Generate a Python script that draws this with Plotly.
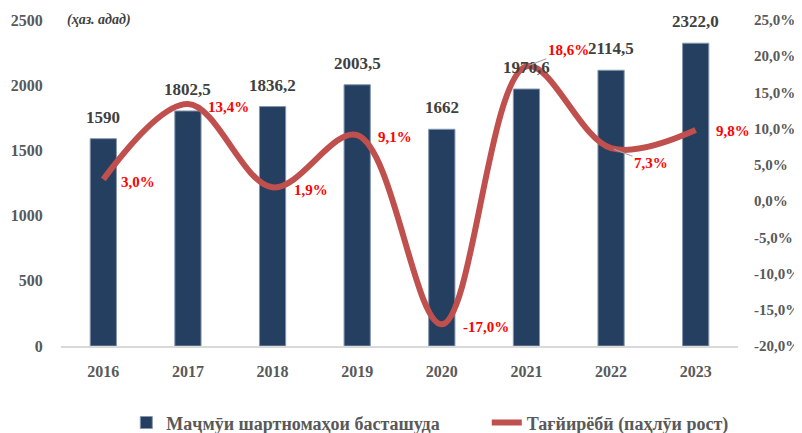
import plotly.graph_objects as go

years = ["2016", "2017", "2018", "2019", "2020", "2021", "2022", "2023"]
contracts = [1590, 1802.5, 1836.2, 2003.5, 1662, 1970.6, 2114.5, 2322.0]
contract_labels = ["1590", "1802,5", "1836,2", "2003,5", "1662", "1970,6", "2114,5", "2322,0"]
growth = [3.0, 13.4, 1.9, 9.1, -17.0, 18.6, 7.3, 9.8]
growth_labels = ["3,0%", "13,4%", "1,9%", "9,1%", "-17,0%", "18,6%", "7,3%", "9,8%"]
left_ticks = [0, 500, 1000, 1500, 2000, 2500]
right_ticks = [-20, -15, -10, -5, 0, 5, 10, 15, 20, 25]
right_tick_labels = ["-20,0%", "-15,0%", "-10,0%", "-5,0%", "0,0%", "5,0%", "10,0%", "15,0%", "20,0%", "25,0%"]
series_names = ["Маҷмӯи шартномаҳои басташуда", "Тағйирёбӣ (паҳлӯи рост)"]
unit_text = "(ҳаз. адад)"

FONT = "Liberation Serif"
BAR_C = "#243F60"
LINE_C = "#C0504D"
TICK_C = "#595959"
LBL_C = "#404040"

fig = go.Figure()
fig.add_trace(go.Bar(
    x=years, y=contracts, name=series_names[0],
    marker=dict(color=BAR_C, line=dict(color="#8496B0", width=1)),
    width=0.31, yaxis="y", legend="legend",
))
fig.add_trace(go.Scatter(
    x=years, y=growth, name=series_names[1], mode="lines",
    line=dict(color=LINE_C, width=6, shape="spline", smoothing=1.0),
    yaxis="y2", legend="legend2",
))

annotations = []
for i, (v, t) in enumerate(zip(contracts, contract_labels)):
    annotations.append(dict(x=i, y=v, xref="x", yref="y", text=t, showarrow=False,
                            yanchor="bottom", yshift=10,
                            font=dict(family=FONT, size=17, color=LBL_C, weight="bold")))

# offsets for growth labels (pixels)
offs = {"2016": (35, -3), "2017": (41, -3), "2018": (38, -3), "2019": (38, -2),
        "2020": (44, -3), "2023": (37, -1)}
arrow_offs = {"2021": (42, -16), "2022": (40, 15)}
for i, (yr, g, t) in enumerate(zip(years, growth, growth_labels)):
    f = dict(family=FONT, size=15, color="#FF0000", weight="bold")
    if yr in arrow_offs:
        ax, ay = arrow_offs[yr]
        annotations.append(dict(x=i, y=g, xref="x", yref="y2", text=t, showarrow=True,
                                arrowhead=0, arrowwidth=1.2, arrowcolor="#A6A6A6",
                                ax=ax, ay=ay, standoff=3, font=f))
    else:
        dx, dy = offs[yr]
        annotations.append(dict(x=i, y=g, xref="x", yref="y2", text=t, showarrow=False,
                                xshift=dx, yshift=dy, font=f))

annotations.append(dict(x=0.006, y=1.0, xref="paper", yref="paper", text="<i>" + unit_text + "</i>",
                        showarrow=False, xanchor="left", yanchor="middle",
                        font=dict(family=FONT, size=14, color=LBL_C, weight="bold")))

legend_font = dict(family=FONT, size=18, color=TICK_C, weight="bold")
fig.update_layout(
    width=794, height=425,
    margin=dict(l=53, r=64, t=12, b=87, autoexpand=False),
    paper_bgcolor="white", plot_bgcolor="white",
    separators=", ",
    showlegend=True,
    legend=dict(orientation="h", xref="container", x=0.149, xanchor="left",
                yref="container", y=0.024, yanchor="middle", font=legend_font),
    legend2=dict(orientation="h", xref="container", x=0.603, xanchor="left",
                 yref="container", y=0.024, yanchor="middle", font=legend_font),
    xaxis=dict(type="category", range=[-0.5, 7.5], showgrid=False, showline=True,
               linecolor="#D9D9D9", linewidth=1.5, automargin=False,
               ticks="outside", ticklen=10, tickcolor="rgba(0,0,0,0)",
               tickfont=dict(family=FONT, size=16, color=TICK_C, weight="bold")),
    yaxis=dict(range=[0, 2500], tickvals=left_ticks, showgrid=False, zeroline=False,
               automargin=False,
               ticks="outside", ticklen=14, tickcolor="rgba(0,0,0,0)",
               tickfont=dict(family=FONT, size=16, color=TICK_C, weight="bold")),
    yaxis2=dict(range=[-20, 25], tickvals=right_ticks, ticktext=right_tick_labels,
                overlaying="y", side="right", showgrid=False, zeroline=False,
                automargin=False,
                ticks="outside", ticklen=12, tickcolor="rgba(0,0,0,0)",
                tickfont=dict(family=FONT, size=15, color=TICK_C, weight="bold")),
    annotations=annotations,
)

fig.write_html("out.html")
